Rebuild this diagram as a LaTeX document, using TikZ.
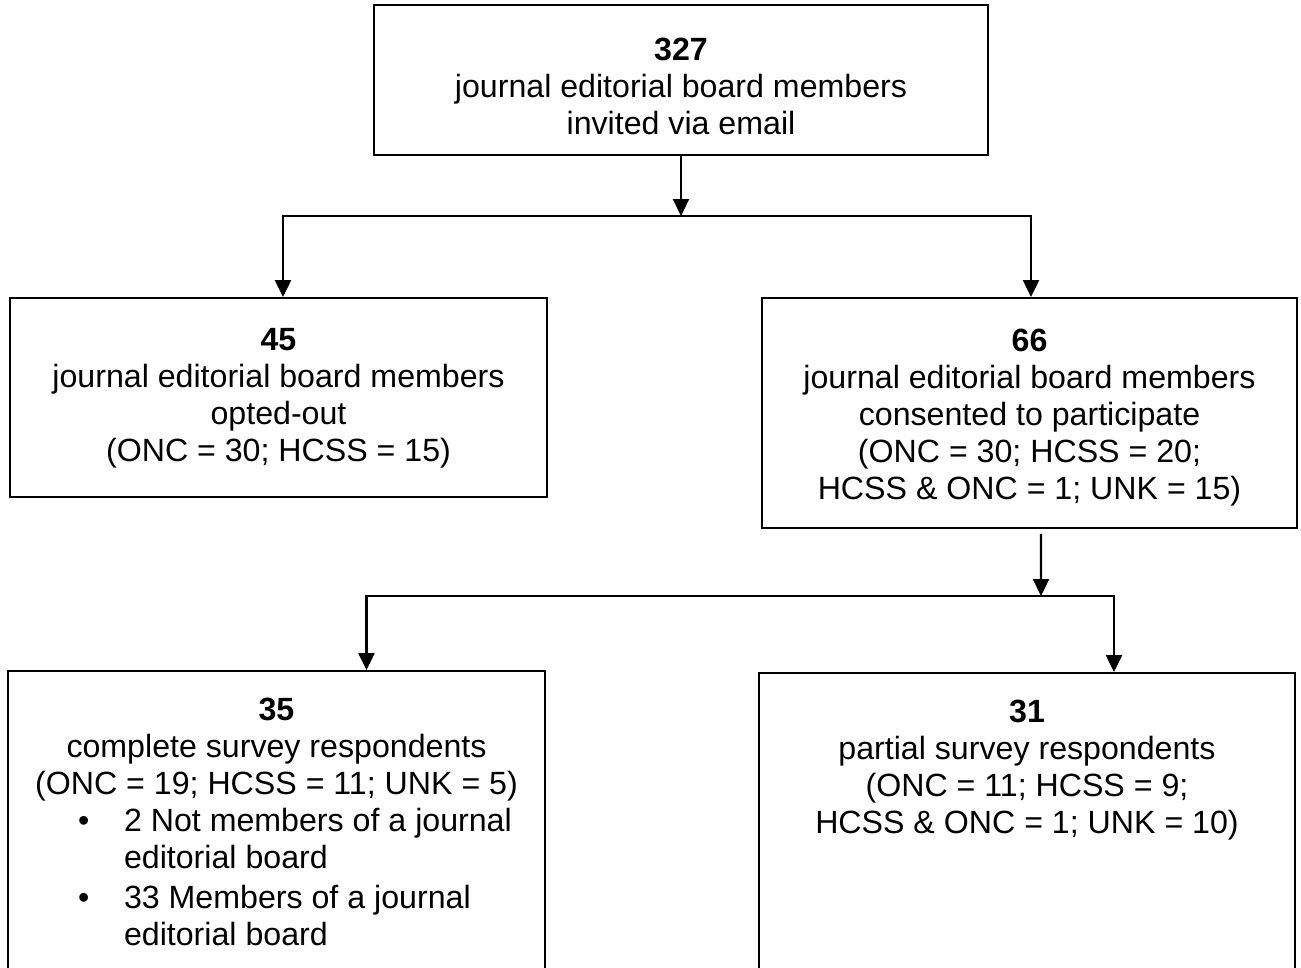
\documentclass[tikz,border=0pt]{standalone}
\usepackage{fontspec}
\setmainfont{Liberation Sans}
\usepackage{tikz}
\usetikzlibrary{positioning}
\usetikzlibrary{arrows.meta}
\tikzset{
  flowbox/.style={draw, line width=1.1pt, inner sep=0pt},
  flowtext/.style={align=center, inner sep=0pt, font=\fontsize{18.3}{21}\selectfont},
  flowarrow/.style={line width=1.3pt, -{Triangle[length=0.34cm,width=0.32cm]}}
}
\newcommand{\bulletline}[2]{\makebox[7.94cm][l]{\makebox[0.92cm][l]{#1}#2}}

\begin{document}
\begin{tikzpicture}[x=0.02cm, y=-0.02cm]
        \useasboundingbox (0,0) rectangle (1301,967);
        \clip (0,0) rectangle (1301,967);
        % boxes
        \node[flowbox, minimum width=12.28cm, minimum height=3cm] (top) at (681,80) {};
        \node[flowbox, minimum width=10.74cm, minimum height=3.98cm] (optout) at (278.5,397.5) {};
        \node[flowbox, minimum width=10.7cm, minimum height=4.6cm] (consent) at (1029.5,413) {};
        \node[flowbox, minimum width=10.74cm, minimum height=6.58cm] (complete) at (276.5,835.5) {};
        \node[flowbox, minimum width=10.72cm, minimum height=6.54cm] (partial) at (1027,836.5) {};
        % texts
        \node[flowtext, below=0.68cm of top.north] (toptext)
          {{\bfseries 327}\\journal editorial board members\\invited via email};
        \node[flowtext, below=0.62cm of optout.north] (optouttext)
          {{\bfseries 45}\\journal editorial board members\\opted-out\\(ONC = 30; HCSS = 15)};
        \node[flowtext, below=0.64cm of consent.north] (consenttext)
          {{\bfseries 66}\\journal editorial board members\\consented to participate\\(ONC = 30; HCSS = 20;\\HCSS \& ONC = 1; UNK = 15)};
        \node[flowtext, below=0.56cm of complete.north] (completetext)
          {{\bfseries 35}\\complete survey respondents\\(ONC = 19; HCSS = 11; UNK = 5)\\
           \bulletline{\textbullet}{2 Not members of a journal}\\
           \bulletline{}{editorial board}\\[0.06cm]
           \bulletline{\textbullet}{33 Members of a journal}\\
           \bulletline{}{editorial board}};
        \node[flowtext, below=0.56cm of partial.north] (partialtext)
          {{\bfseries 31}\\partial survey respondents\\(ONC = 11; HCSS = 9;\\HCSS \& ONC = 1; UNK = 10)};
        % connectors
        \coordinate (splitA) at (681,216);
        \coordinate (splitB) at (1041,596);
        \draw[flowarrow] (top.south) -- (splitA);
        \draw[flowarrow] (splitA) -| ([xshift=0.09cm]optout.north);
        \draw[flowarrow] (splitA) -| ([xshift=0.03cm]consent.north);
        \draw[flowarrow] ([xshift=0.23cm, yshift=-0.1cm]consent.south) -- (splitB);
        \draw[flowarrow] (splitB) -| ([xshift=1.8cm]complete.north);
        \draw[flowarrow] (splitB) -| ([xshift=1.74cm]partial.north);
    \end{tikzpicture}
\end{document}
